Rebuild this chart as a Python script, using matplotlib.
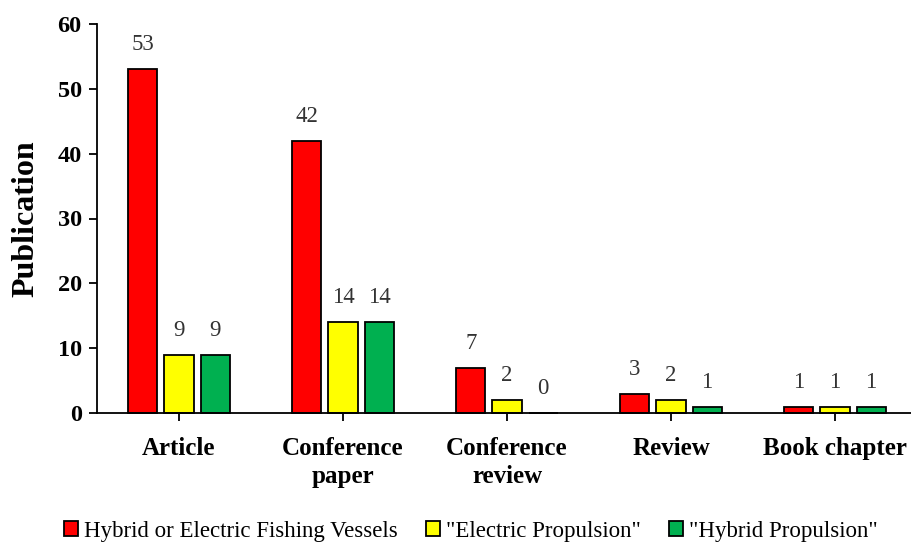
import matplotlib
matplotlib.use("Agg")
import matplotlib.pyplot as plt
import numpy as np

categories = ["Article", "Conference\npaper", "Conference\nreview", "Review", "Book chapter"]
series_names = ["Hybrid or Electric Fishing Vessels", '"Electric Propulsion"', '"Hybrid Propulsion"']
hybrid_electric_vessels = [53, 42, 7, 3, 1]
electric_propulsion = [9, 14, 2, 2, 1]
hybrid_propulsion = [9, 14, 0, 1, 1]
colors = ["#FF0000", "#FFFF00", "#00B050"]
yticks = [0, 10, 20, 30, 40, 50, 60]

plt.rcParams['font.family'] = ['Liberation Serif', 'DejaVu Serif']

fig = plt.figure(figsize=(9.12, 5.43), dpi=100)
left = 97 / 912
right = 917 / 912
bottom = 1 - 413 / 543
top = 1 - 24 / 543
ax = fig.add_axes([left, bottom, right - left, top - bottom])

x = np.arange(len(categories))
width = 0.177
offset = 0.22
all_series = [hybrid_electric_vessels, electric_propulsion, hybrid_propulsion]
for i, (vals, name, c) in enumerate(zip(all_series, series_names, colors)):
    pos = x + (i - 1) * offset
    ax.bar(pos, vals, width=width, color=c, edgecolor="black", linewidth=1.3, label=name, clip_on=False)
    for p, v in zip(pos, vals):
        ax.annotate(str(v), (p, v), xytext=(0, 10), textcoords="offset points",
                    ha="center", va="bottom", fontsize=16.5, color="#333333")

ax.set_xlim(-0.5, len(categories) - 0.5)
ax.set_ylim(0, 60)
ax.set_yticks(yticks)
ax.set_xticks(x)
ax.set_xticklabels(categories, fontsize=18, fontweight="bold", linespacing=1.3)
ax.tick_params(axis="y", labelsize=17.5, width=1.3, length=6, direction="out", pad=5)
for lab in ax.get_yticklabels():
    lab.set_fontweight("bold")
ax.tick_params(axis="x", width=1.3, length=6, direction="out", pad=11)
ax.spines["top"].set_visible(False)
ax.spines["right"].set_visible(False)
ax.spines["left"].set_linewidth(1.3)
ax.spines["bottom"].set_linewidth(1.3)
ax.set_ylabel("Publication", fontsize=23, fontweight="bold", labelpad=12)

fig.legend(loc="center", bbox_to_anchor=(471 / 912, 1 - 531 / 543), ncol=3, frameon=False,
           fontsize=16.5, handlelength=0.6, handleheight=0.6, handletextpad=0.25,
           columnspacing=1.25)

fig.savefig("out.png", dpi=100)
